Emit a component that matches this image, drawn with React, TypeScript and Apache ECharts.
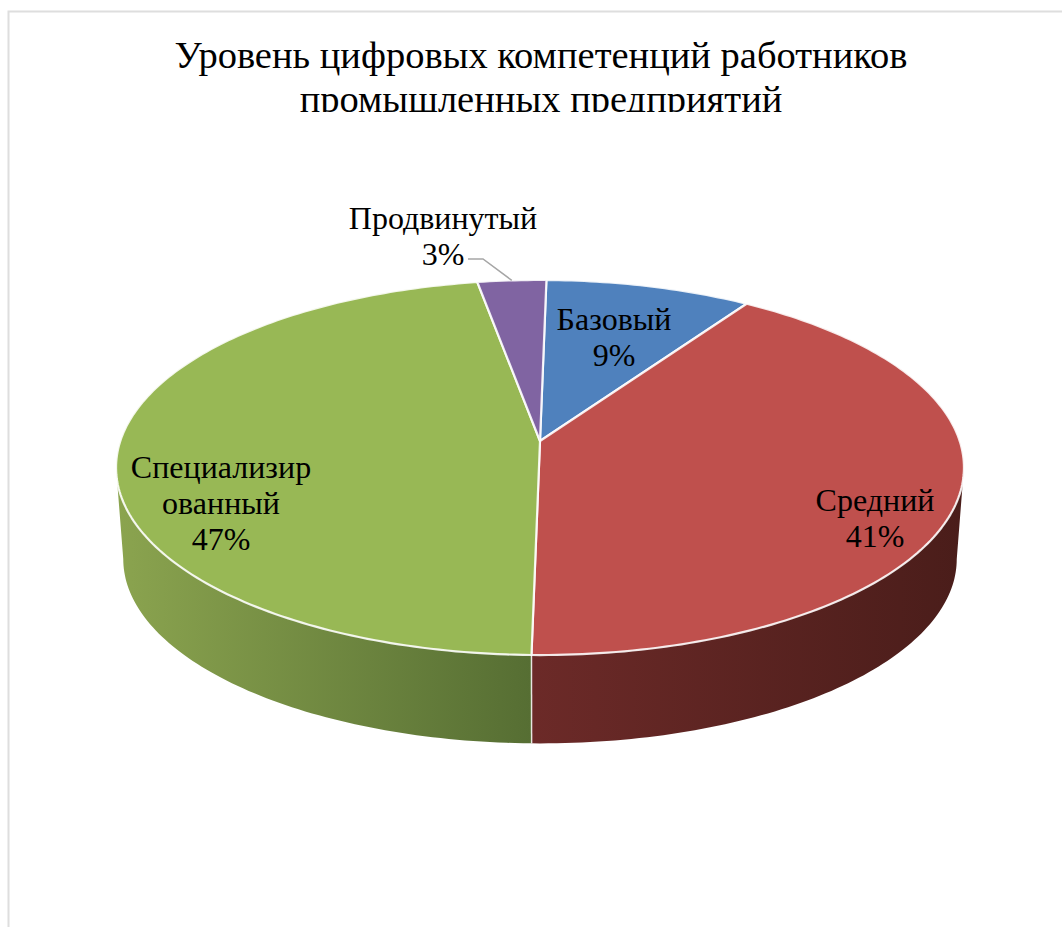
import React, { useEffect, useRef } from "react";
import * as echarts from "echarts";

const titleLines = ["Уровень цифровых компетенций работников", "промышленных предприятий"];
const categories = ["Базовый", "Средний", "Специализир\nованный", "Продвинутый"];
const shares = [9, 41, 47, 3];
const topColors = ["#4f81bd", "#bf504d", "#98b855", "#8064a2"];
const wallColors = [
  ["#2f4d71", "#3c618d"],
  ["#6c2a28", "#4a1d1a"],
  ["#8ba44f", "#566e33"],
  ["#4c3c61", "#604b7a"],
];
// label centres, in slice order
const labelX = [614, 875, 221, 443];
const labelY = [337, 518, 503, 236];

const FONT = '"Liberation Serif", "Times New Roman", serif';

// Tilted-disc projection: the hub sits above the middle of the rim ellipse.
const HUB_X = 540;
const HUB_Y = 441;
const SPREAD_X = 419.7;
const SPREAD_Y = 183.8;
const TILT = 0.1413;
const WALL_DROP = 92;
const WALL_SHRINK = 0.983;
const ROTATION = 1;

// Angles where the projected rim reaches its left and right extremes;
// only the part of the wall between them faces the viewer.
const SIDE_RIGHT = (Math.acos(-TILT) * 180) / Math.PI;
const SIDE_LEFT = 360 - SIDE_RIGHT;

const rimPoint = (deg: number): number[] => {
  const t = (deg * Math.PI) / 180;
  const w = 1 + TILT * Math.cos(t);
  return [HUB_X + (SPREAD_X * Math.sin(t)) / w, HUB_Y - (SPREAD_Y * Math.cos(t)) / w];
};

const floorPoint = (deg: number): number[] => {
  const [x, y] = rimPoint(deg);
  return [HUB_X + (x - HUB_X) * WALL_SHRINK, HUB_Y + WALL_DROP + (y - HUB_Y) * WALL_SHRINK];
};

const total = shares.reduce((a, b) => a + b, 0);
const sliceRange = (i: number): number[] => {
  const before = shares.slice(0, i).reduce((a, b) => a + b, 0);
  return [
    ROTATION + (360 * before) / total,
    ROTATION + (360 * (before + shares[i])) / total,
  ];
};

const arc = (from: number, to: number, fn: (d: number) => number[]): number[][] => {
  const pts: number[][] = [];
  const steps = Math.max(2, Math.ceil(to - from));
  for (let s = 0; s <= steps; s++) pts.push(fn(from + ((to - from) * s) / steps));
  return pts;
};

const seriesData = shares.map((v, i) => [i, v]);

const renderWall = (_p: any, api: any) => {
  const i = api.value(0);
  const [start, end] = sliceRange(i);
  const from = Math.max(start, SIDE_RIGHT);
  const to = Math.min(end, SIDE_LEFT);
  if (to <= from) return { type: "group", children: [] };
  const top = arc(from, to, rimPoint);
  const floor = arc(from, to, floorPoint).reverse();
  const children: any[] = [
    {
      type: "polygon",
      shape: { points: top.concat(floor) },
      style: {
        fill: new echarts.graphic.LinearGradient(0, 0, 1, 0, [
          { offset: 0, color: wallColors[i][0] },
          { offset: 1, color: wallColors[i][1] },
        ]),
      },
    },
  ];
  if (start > SIDE_RIGHT && start < SIDE_LEFT) {
    const a = rimPoint(start);
    const b = floorPoint(start);
    children.push({
      type: "line",
      shape: { x1: a[0], y1: a[1], x2: b[0], y2: b[1] },
      style: { stroke: "rgba(255,255,255,0.8)", lineWidth: 1.5 },
    });
  }
  return { type: "group", children };
};

const renderTop = (_p: any, api: any) => {
  const i = api.value(0);
  const [from, to] = sliceRange(i);
  const points = [[HUB_X, HUB_Y]].concat(arc(from, to, rimPoint));
  return {
    type: "polygon",
    shape: { points },
    style: { fill: topColors[i], stroke: "rgba(255,255,255,0.88)", lineWidth: 2.2, lineJoin: "round" },
  };
};

const renderLabel = (_p: any, api: any) => {
  const i = api.value(0);
  const children: any[] = [
    {
      type: "text",
      style: {
        text: `${categories[i]}\n${api.value(1)}%`,
        x: labelX[i],
        y: labelY[i],
        align: "center",
        verticalAlign: "middle",
        fontFamily: FONT,
        fontSize: 32,
        lineHeight: 36,
        fill: "#000000",
      },
    },
  ];
  // The narrowest slice has its label outside the disc, tied back with a leader.
  if (api.value(1) < 5) {
    const [from, to] = sliceRange(i);
    const end = rimPoint((from + to) / 2);
    children.push({
      type: "polyline",
      shape: { points: [[468, 259], [483, 259], end] },
      style: { stroke: "#a6a6a6", lineWidth: 1.5, fill: "none" },
    });
  }
  return { type: "group", children };
};

export default function App() {
  const ref = useRef<HTMLDivElement>(null);
  useEffect(() => {
    const chart = echarts.init(ref.current!, undefined, { renderer: "svg" });
    chart.setOption({
      animation: false,
      backgroundColor: "#ffffff",
      title: {
        text: titleLines.join("\n"),
        left: 536,
        top: 28,
        textAlign: "center",
        textStyle: {
          fontFamily: FONT,
          fontSize: 38.5,
          fontWeight: "normal",
          lineHeight: 44,
          color: "#000000",
        },
      },
      graphic: [
        {
          type: "polyline",
          z: 100,
          shape: { points: [[1062, 11.5], [8.5, 11.5], [8.5, 927]] },
          style: { stroke: "#dedede", lineWidth: 2, fill: "none" },
        },
        // The plot area starts right under the title box and trims its last line.
        {
          type: "rect",
          z: 100,
          shape: { x: 100, y: 112, width: 900, height: 20 },
          style: { fill: "#ffffff" },
        },
      ],
      series: [
        { type: "custom", coordinateSystem: "none", silent: true, z: 2, data: seriesData, renderItem: renderWall },
        { type: "custom", coordinateSystem: "none", silent: true, z: 3, data: seriesData, renderItem: renderTop },
        { type: "custom", coordinateSystem: "none", silent: true, z: 4, data: seriesData, renderItem: renderLabel },
      ],
    });
    return () => chart.dispose();
  }, []);
  return (
    <div
      ref={ref}
      style={{ position: "absolute", left: 0, top: 0, width: 1062, height: 927 }}
    />
  );
}
